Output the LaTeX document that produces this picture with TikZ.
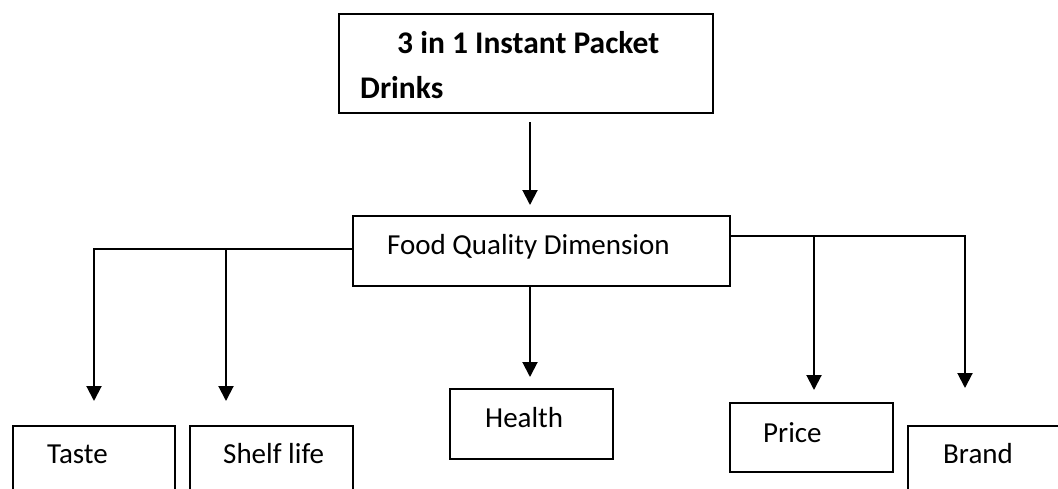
\documentclass[tikz,border=0pt]{standalone}
\usepackage{fontspec}
\setmainfont{Carlito}
\usetikzlibrary{arrows.meta}
\begin{document}
\begin{tikzpicture}[x=1pt,y=-1pt,
  box/.style={draw, line width=1.6pt, inner sep=0pt, anchor=north west},
  lbl/.style={anchor=base west, inner sep=0pt, font=\fontsize{29}{34}\selectfont},
  head/.style={anchor=base west, inner sep=0pt, font=\bfseries\fontsize{31.5}{37}\selectfont},
  link/.style={line width=2pt},
  arr/.style={link, -{Triangle[width=15pt,length=15pt]}}]
\useasboundingbox[fill=white] (0,0) rectangle (1058,488);

% boxes
\node[box, minimum width=374pt, minimum height=99pt] (top) at (338,13) {};
\node[box, minimum width=377pt, minimum height=70pt] (food) at (352,215) {};
\node[box, minimum width=162pt, minimum height=70pt] (taste) at (12,425) {};
\node[box, minimum width=163pt, minimum height=70pt] (shelf) at (189,425) {};
\node[box, minimum width=163pt, minimum height=70pt] (health) at (449,388) {};
\node[box, minimum width=163pt, minimum height=69pt] (price) at (729,402) {};
\node[box, minimum width=163pt, minimum height=70pt] (brand) at (907,425) {};

% labels
\node[head] (topA) at (397,53) {3 in 1 Instant Packet};
\node[head] (topB) at (360,98) {Drinks};
\node[lbl] (foodL) at (387,254) {Food Quality Dimension};
\node[lbl] (tasteL) at (47,463) {Taste};
\node[lbl] (shelfL) at (223,463) {Shelf life};
\node[lbl] (healthL) at (485,427) {Health};
\node[lbl] (priceL) at (763,442) {Price};
\node[lbl] (brandL) at (943,463) {Brand};

% connector end points
\coordinate (topOut) at (530,122);
\coordinate (foodIn) at (530,205);
\coordinate (healthOut) at (530,285);
\coordinate (healthTip) at (530,377);
\coordinate (tasteTip) at (94,401);
\coordinate (shelfJoin) at (226,248);
\coordinate (shelfTip) at (226,401);
\coordinate (priceJoin) at (814,235);
\coordinate (priceTip) at (814,390);
\coordinate (brandTip) at (965,388);

% connectors
\draw[arr] (topOut) -- (foodIn);
\draw[arr] (healthOut) -- (healthTip);
\draw[arr] ([yshift=2pt]food.west) -| (tasteTip);
\draw[arr] (shelfJoin) -- (shelfTip);
\draw[arr] ([yshift=15pt]food.east) -| (brandTip);
\draw[arr] (priceJoin) -- (priceTip);
\end{tikzpicture}
\end{document}
